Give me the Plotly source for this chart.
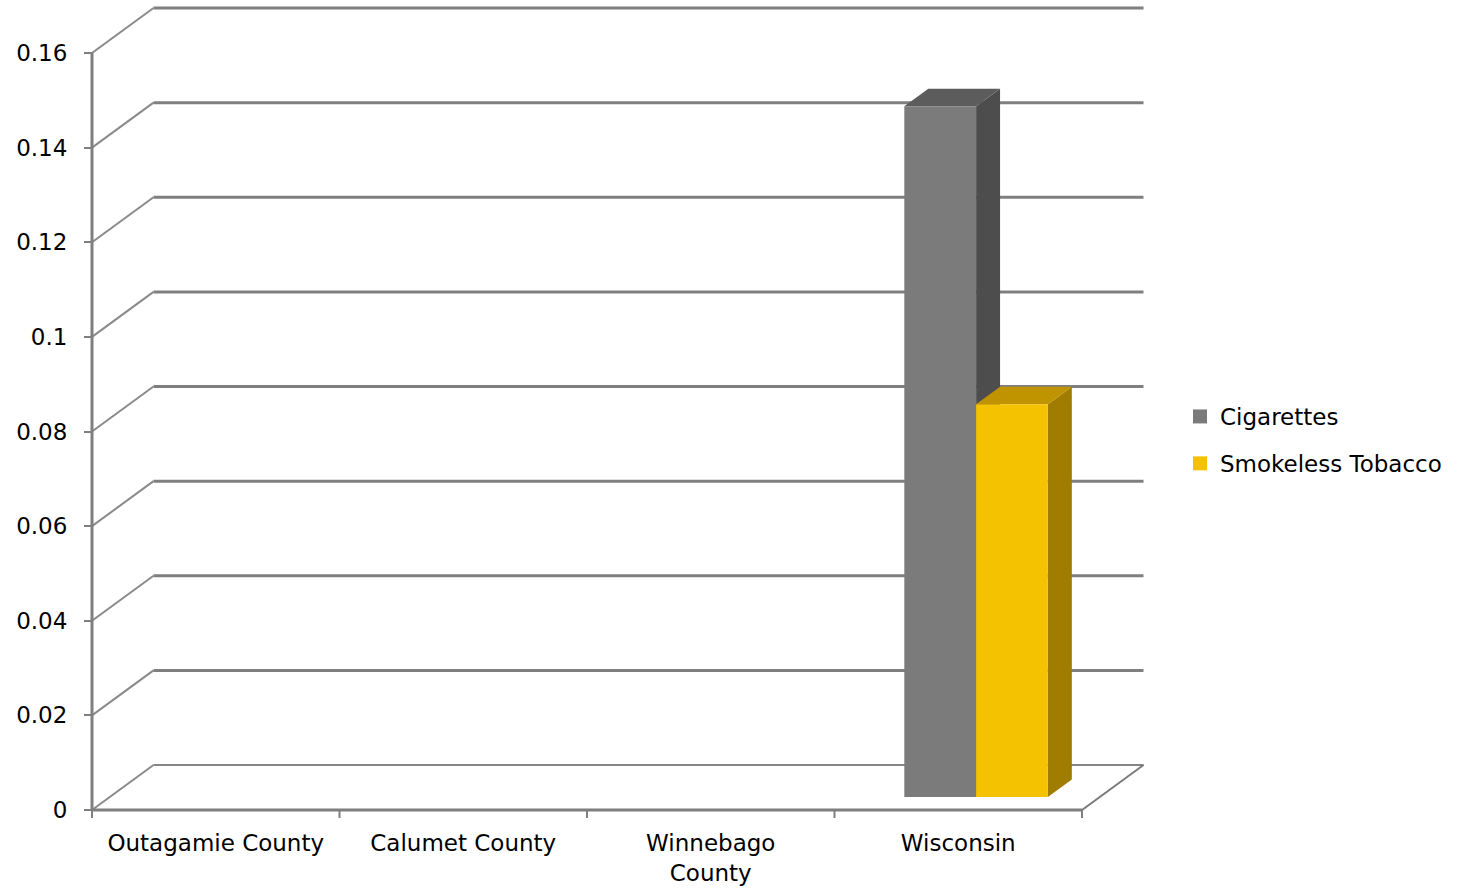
import plotly.graph_objects as go

# data
categories = ["Outagamie County", "Calumet County", "Winnebago<br>County", "Wisconsin"]
cigarettes = [None, None, None, 0.146]
smokeless = [None, None, None, 0.083]
y_ticks = [0, 0.02, 0.04, 0.06, 0.08, 0.1, 0.12, 0.14, 0.16]
y_labels = ["0", "0.02", "0.04", "0.06", "0.08", "0.1", "0.12", "0.14", "0.16"]

# fake 3d: depth offset of the back wall in data units
SX = 247.5     # px per category
SY = 4731.0    # px per unit of y
DX = 61.5 / SX
DY = 45 / SY
BAR_W = 0.29
F1, F2 = 0.29, 0.68   # front / back depth of the bars
GRID = "#7f7f7f"

W, H = 1464, 891
L, R, T, B = 90, 316, 1, 69
x0 = -2 / SX
x1 = x0 + (W - L - R) / SX
y1 = 0.171
y0 = y1 - (H - T - B) / SY


def p(x, y, f):
    return x + f * DX, y + f * DY


def poly(pts, color):
    xs = [q[0] for q in pts] + [pts[0][0]]
    ys = [q[1] for q in pts] + [pts[0][1]]
    return go.Scatter(x=xs, y=ys, mode="lines", fill="toself", fillcolor=color,
                      line=dict(width=0, color=color), hoverinfo="skip", showlegend=False)


def seg(xa, ya, xb, yb, width=3, color=GRID):
    return go.Scatter(x=[xa, xb], y=[ya, yb], mode="lines",
                      line=dict(color=color, width=width), hoverinfo="skip", showlegend=False)


fig = go.Figure()

# back wall gridlines + side wall diagonals
for v in y_ticks:
    fig.add_trace(seg(DX, v + DY, 4 + DX, v + DY, 2 if v == 0 else 3, "#868686" if v == 0 else GRID))
    fig.add_trace(seg(0, v, DX, v + DY, 2, "#8a8a8a"))

# floor front edge, right edge, category ticks, value axis
fig.add_trace(seg(0, 0, 4, 0, 3))
fig.add_trace(seg(4, 0, 4 + DX, DY, 2, "#7a7a7a"))
for k in range(len(categories) + 1):
    fig.add_trace(seg(k, 0, k, -8 / SY, 2))
fig.add_trace(seg(0, 0, 0, y_ticks[-1], 3))

series = [
    ("Cigarettes", cigarettes, "#7b7b7b", "#5c5c5c", "#4d4d4d", -1),
    ("Smokeless Tobacco", smokeless, "#f5c200", "#c09300", "#a07d00", 0),
]
for name, vals, front, top, side, off in series:
    for i, v in enumerate(vals):
        if v is None:
            continue
        a = i + 0.5 + off * BAR_W
        b = a + BAR_W
        fig.add_trace(poly([p(b, 0, F1), p(b, v, F1), p(b, v, F2), p(b, 0, F2)], side))
        fig.add_trace(poly([p(a, v, F1), p(b, v, F1), p(b, v, F2), p(a, v, F2)], top))
        fig.add_trace(poly([p(a, 0, F1), p(b, 0, F1), p(b, v, F1), p(a, v, F1)], front))
    fig.add_trace(go.Scatter(x=[None], y=[None], mode="markers", name=name, legendgroup=name,
                             marker=dict(symbol="square", size=14, color=front)))

font = dict(family="DejaVu Sans, Arial, sans-serif", size=23, color="#000000")

fig.update_layout(
    width=W, height=H,
    margin=dict(l=L, r=R, t=T, b=B),
    plot_bgcolor="white", paper_bgcolor="white",
    font=font,
    showlegend=True,
    legend=dict(x=(1180 - L) / (W - L - R), y=(H - B - 440) / (H - T - B),
                xanchor="left", yanchor="middle",
                font=font, tracegroupgap=14, itemwidth=30),
)
fig.update_xaxes(range=[x0, x1], tickvals=[i + 0.5 for i in range(len(categories))],
                 ticktext=categories, ticks="", showgrid=False, zeroline=False,
                 showline=False, tickfont=font, ticklabelstandoff=5, fixedrange=True)
fig.update_yaxes(range=[y0, y1], tickvals=y_ticks, ticktext=y_labels,
                 anchor="free", position=(0 - x0) / (x1 - x0),
                 ticks="outside", ticklen=8, tickwidth=2, tickcolor=GRID,
                 showgrid=False, zeroline=False, showline=False,
                 tickfont=font, ticklabelstandoff=12, fixedrange=True)

fig.write_html("out.html", config=dict(displayModeBar=False),
               post_script="document.body.style.margin='0';")
